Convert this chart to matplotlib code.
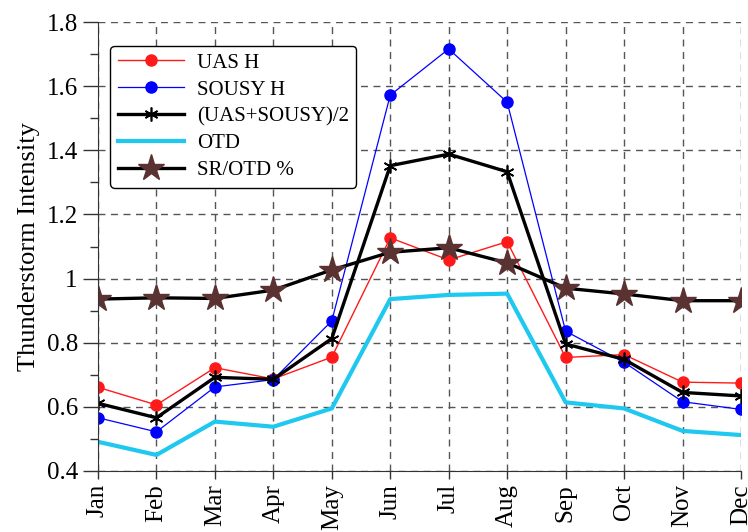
import matplotlib
matplotlib.use("Agg")
import matplotlib.pyplot as plt
from matplotlib.ticker import MultipleLocator, FuncFormatter

plt.rcParams['font.family'] = ['Liberation Serif', 'DejaVu Serif']

months = ["Jan", "Feb", "Mar", "Apr", "May", "Jun", "Jul", "Aug", "Sep", "Oct", "Nov", "Dec"]
uas_h = [0.661, 0.606, 0.722, 0.687, 0.755, 1.127, 1.058, 1.115, 0.754, 0.763, 0.677, 0.674]
sousy_h = [0.566, 0.522, 0.662, 0.685, 0.868, 1.572, 1.716, 1.550, 0.836, 0.739, 0.616, 0.592]
mean_uas_sousy = [0.611, 0.566, 0.692, 0.686, 0.813, 1.352, 1.388, 1.333, 0.796, 0.748, 0.645, 0.634]
otd = [0.491, 0.450, 0.554, 0.538, 0.595, 0.936, 0.949, 0.953, 0.614, 0.595, 0.525, 0.512]
sr_otd = [0.936, 0.940, 0.938, 0.964, 1.027, 1.082, 1.096, 1.049, 0.970, 0.952, 0.931, 0.931]

x = list(range(1, len(months) + 1))

fig = plt.figure(figsize=(7.48, 5.32), dpi=100)
ax = fig.add_axes([0.131, 0.1147, 0.8596, 0.8439])

ax.plot(x, uas_h, color="#ff1a1a", lw=1.0, marker="o", ms=8, label="UAS H")
ax.plot(x, sousy_h, color="#0000ff", lw=0.9, marker="o", ms=8, label="SOUSY H")
ax.plot(x, mean_uas_sousy, color="black", lw=2.4, marker=(6, 2, 0), ms=10,
        mew=1.2, label="(UAS+SOUSY)/2")
ax.plot(x, otd, color="#1ec8ef", lw=3.0, label="OTD")
ax.plot(x, sr_otd, color="black", lw=2.4, marker="*", ms=20, mfc="#5a3232",
        mec="#5a3232", label="SR/OTD %")

ax.set_xlim(1, 12)
ax.set_ylim(0.4, 1.8)
ax.set_xticks(x)
ax.set_xticklabels(months, rotation=90, fontsize=18)
ax.yaxis.set_major_locator(MultipleLocator(0.2))
ax.yaxis.set_minor_locator(MultipleLocator(0.1))
ax.yaxis.set_major_formatter(FuncFormatter(lambda v, p: f"{v:g}"))
ax.tick_params(axis="y", labelsize=18)
ax.tick_params(which="major", direction="out", length=11, width=1, color="#333333")
ax.tick_params(which="minor", direction="out", length=6, width=1, color="#333333")
ax.tick_params(axis="x", length=6)

for s in ["top", "right"]:
    ax.spines[s].set_visible(False)
for s in ["left", "bottom"]:
    ax.spines[s].set_color("#333333")

ax.grid(True, which="major", color="#555555", ls=(0, (5, 4)), lw=1.0)
ax.set_axisbelow(True)

ax.set_ylabel("Thunderstorm Intensity", fontsize=19, labelpad=5)

leg = ax.legend(loc="upper left", bbox_to_anchor=(0.003, 0.97), fontsize=15,
                handlelength=3.2, handletextpad=0.6, frameon=True, fancybox=True,
                edgecolor="black", framealpha=1, borderpad=0.35, labelspacing=0.35)
leg.get_frame().set_linewidth(1.0)

fig.savefig("out.png", dpi=100)
